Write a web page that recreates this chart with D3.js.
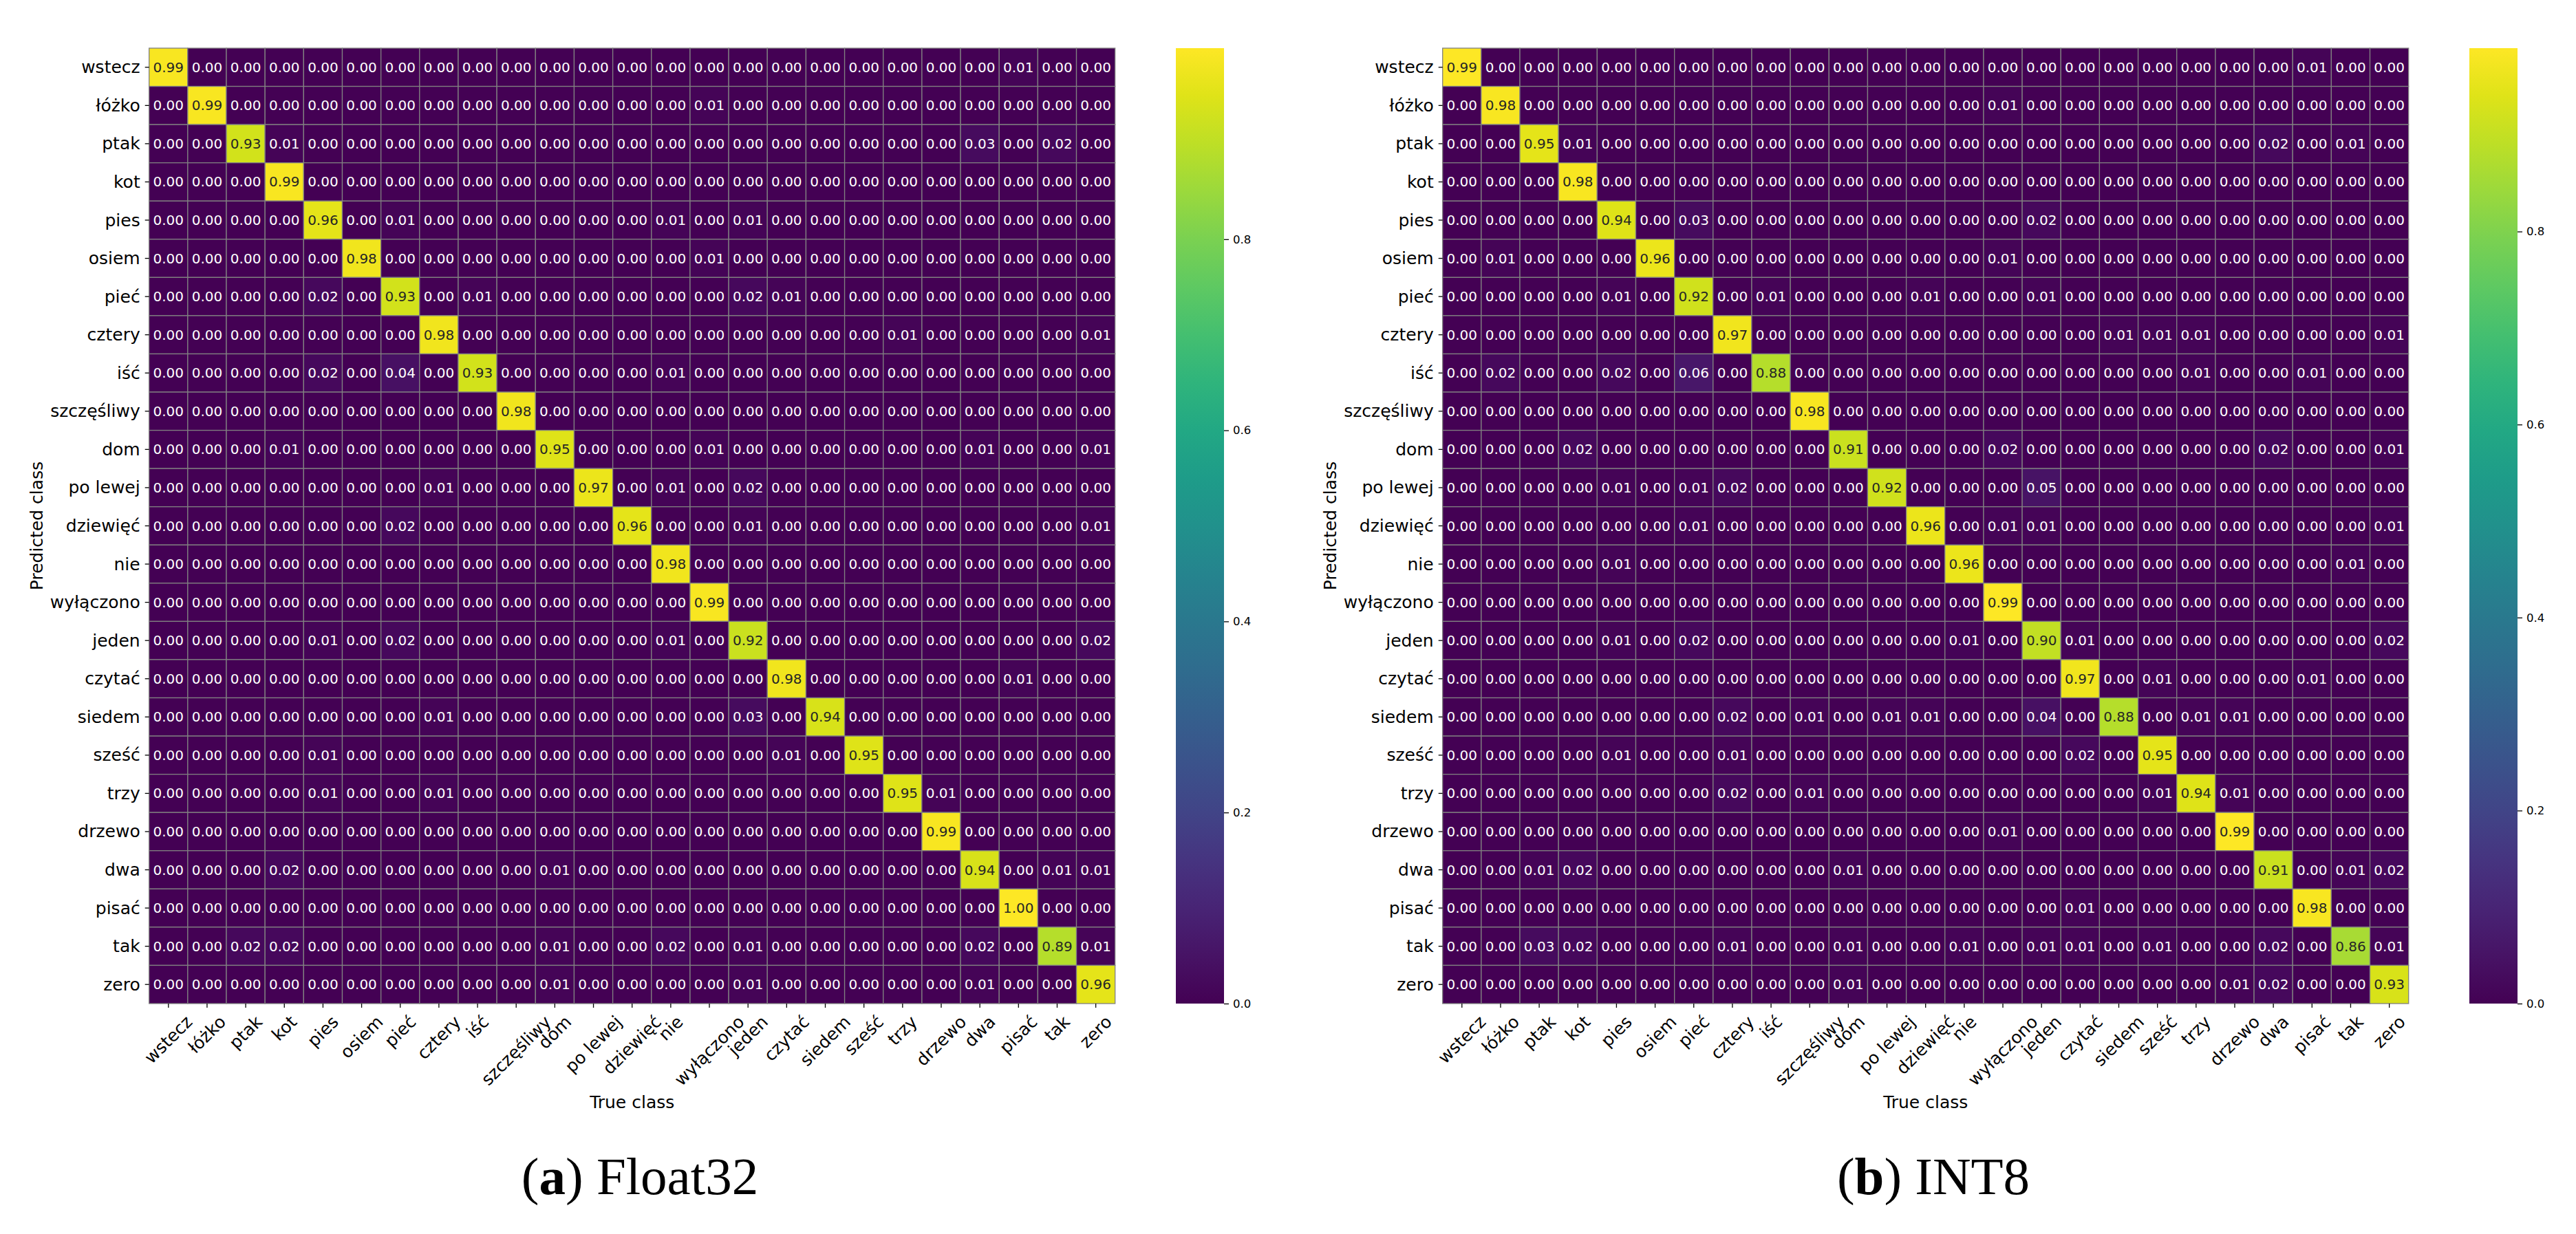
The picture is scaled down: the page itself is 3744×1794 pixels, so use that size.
<!DOCTYPE html>
<html>
<head>
<meta charset="utf-8">
<script src="https://cdn.jsdelivr.net/npm/d3@7"></script>
<style>
  body { margin: 0; background: #fff; }
  svg text { font-family: "DejaVu Sans", sans-serif; }
</style>
</head>
<body>
<svg id="chart"></svg>
<script>
// class labels, same order on both axes
var classNames = ["wstecz", "łóżko", "ptak", "kot", "pies", "osiem", "pieć", "cztery", "iść",
  "szczęśliwy", "dom", "po lewej", "dziewięć", "nie", "wyłączono", "jeden", "czytać", "siedem",
  "sześć", "trzy", "drzewo", "dwa", "pisać", "tak", "zero"];

// rows = predicted class, columns = true class (groups of 5 columns)
var float32Rows = [
  [.99,0,0,0,0, 0,0,0,0,0, 0,0,0,0,0, 0,0,0,0,0, 0,0,.01,0,0],
  [0,.99,0,0,0, 0,0,0,0,0, 0,0,0,0,.01, 0,0,0,0,0, 0,0,0,0,0],
  [0,0,.93,.01,0, 0,0,0,0,0, 0,0,0,0,0, 0,0,0,0,0, 0,.03,0,.02,0],
  [0,0,0,.99,0, 0,0,0,0,0, 0,0,0,0,0, 0,0,0,0,0, 0,0,0,0,0],
  [0,0,0,0,.96, 0,.01,0,0,0, 0,0,0,.01,0, .01,0,0,0,0, 0,0,0,0,0],
  [0,0,0,0,0, .98,0,0,0,0, 0,0,0,0,.01, 0,0,0,0,0, 0,0,0,0,0],
  [0,0,0,0,.02, 0,.93,0,.01,0, 0,0,0,0,0, .02,.01,0,0,0, 0,0,0,0,0],
  [0,0,0,0,0, 0,0,.98,0,0, 0,0,0,0,0, 0,0,0,0,.01, 0,0,0,0,.01],
  [0,0,0,0,.02, 0,.04,0,.93,0, 0,0,0,.01,0, 0,0,0,0,0, 0,0,0,0,0],
  [0,0,0,0,0, 0,0,0,0,.98, 0,0,0,0,0, 0,0,0,0,0, 0,0,0,0,0],
  [0,0,0,.01,0, 0,0,0,0,0, .95,0,0,0,.01, 0,0,0,0,0, 0,.01,0,0,.01],
  [0,0,0,0,0, 0,0,.01,0,0, 0,.97,0,.01,0, .02,0,0,0,0, 0,0,0,0,0],
  [0,0,0,0,0, 0,.02,0,0,0, 0,0,.96,0,0, .01,0,0,0,0, 0,0,0,0,.01],
  [0,0,0,0,0, 0,0,0,0,0, 0,0,0,.98,0, 0,0,0,0,0, 0,0,0,0,0],
  [0,0,0,0,0, 0,0,0,0,0, 0,0,0,0,.99, 0,0,0,0,0, 0,0,0,0,0],
  [0,0,0,0,.01, 0,.02,0,0,0, 0,0,0,.01,0, .92,0,0,0,0, 0,0,0,0,.02],
  [0,0,0,0,0, 0,0,0,0,0, 0,0,0,0,0, 0,.98,0,0,0, 0,0,.01,0,0],
  [0,0,0,0,0, 0,0,.01,0,0, 0,0,0,0,0, .03,0,.94,0,0, 0,0,0,0,0],
  [0,0,0,0,.01, 0,0,0,0,0, 0,0,0,0,0, 0,.01,0,.95,0, 0,0,0,0,0],
  [0,0,0,0,.01, 0,0,.01,0,0, 0,0,0,0,0, 0,0,0,0,.95, .01,0,0,0,0],
  [0,0,0,0,0, 0,0,0,0,0, 0,0,0,0,0, 0,0,0,0,0, .99,0,0,0,0],
  [0,0,0,.02,0, 0,0,0,0,0, .01,0,0,0,0, 0,0,0,0,0, 0,.94,0,.01,.01],
  [0,0,0,0,0, 0,0,0,0,0, 0,0,0,0,0, 0,0,0,0,0, 0,0,1.00,0,0],
  [0,0,.02,.02,0, 0,0,0,0,0, .01,0,0,.02,0, .01,0,0,0,0, 0,.02,0,.89,.01],
  [0,0,0,0,0, 0,0,0,0,0, .01,0,0,0,0, .01,0,0,0,0, 0,.01,0,0,.96]
];

var int8Rows = [
  [.99,0,0,0,0, 0,0,0,0,0, 0,0,0,0,0, 0,0,0,0,0, 0,0,.01,0,0],
  [0,.98,0,0,0, 0,0,0,0,0, 0,0,0,0,.01, 0,0,0,0,0, 0,0,0,0,0],
  [0,0,.95,.01,0, 0,0,0,0,0, 0,0,0,0,0, 0,0,0,0,0, 0,.02,0,.01,0],
  [0,0,0,.98,0, 0,0,0,0,0, 0,0,0,0,0, 0,0,0,0,0, 0,0,0,0,0],
  [0,0,0,0,.94, 0,.03,0,0,0, 0,0,0,0,0, .02,0,0,0,0, 0,0,0,0,0],
  [0,.01,0,0,0, .96,0,0,0,0, 0,0,0,0,.01, 0,0,0,0,0, 0,0,0,0,0],
  [0,0,0,0,.01, 0,.92,0,.01,0, 0,0,.01,0,0, .01,0,0,0,0, 0,0,0,0,0],
  [0,0,0,0,0, 0,0,.97,0,0, 0,0,0,0,0, 0,0,.01,.01,.01, 0,0,0,0,.01],
  [0,.02,0,0,.02, 0,.06,0,.88,0, 0,0,0,0,0, 0,0,0,0,.01, 0,0,.01,0,0],
  [0,0,0,0,0, 0,0,0,0,.98, 0,0,0,0,0, 0,0,0,0,0, 0,0,0,0,0],
  [0,0,0,.02,0, 0,0,0,0,0, .91,0,0,0,.02, 0,0,0,0,0, 0,.02,0,0,.01],
  [0,0,0,0,.01, 0,.01,.02,0,0, 0,.92,0,0,0, .05,0,0,0,0, 0,0,0,0,0],
  [0,0,0,0,0, 0,.01,0,0,0, 0,0,.96,0,.01, .01,0,0,0,0, 0,0,0,0,.01],
  [0,0,0,0,.01, 0,0,0,0,0, 0,0,0,.96,0, 0,0,0,0,0, 0,0,0,.01,0],
  [0,0,0,0,0, 0,0,0,0,0, 0,0,0,0,.99, 0,0,0,0,0, 0,0,0,0,0],
  [0,0,0,0,.01, 0,.02,0,0,0, 0,0,0,.01,0, .90,.01,0,0,0, 0,0,0,0,.02],
  [0,0,0,0,0, 0,0,0,0,0, 0,0,0,0,0, 0,.97,0,.01,0, 0,0,.01,0,0],
  [0,0,0,0,0, 0,0,.02,0,.01, 0,.01,.01,0,0, .04,0,.88,0,.01, .01,0,0,0,0],
  [0,0,0,0,.01, 0,0,.01,0,0, 0,0,0,0,0, 0,.02,0,.95,0, 0,0,0,0,0],
  [0,0,0,0,0, 0,0,.02,0,.01, 0,0,0,0,0, 0,0,0,.01,.94, .01,0,0,0,0],
  [0,0,0,0,0, 0,0,0,0,0, 0,0,0,0,.01, 0,0,0,0,0, .99,0,0,0,0],
  [0,0,.01,.02,0, 0,0,0,0,0, .01,0,0,0,0, 0,0,0,0,0, 0,.91,0,.01,.02],
  [0,0,0,0,0, 0,0,0,0,0, 0,0,0,0,0, 0,.01,0,0,0, 0,0,.98,0,0],
  [0,0,.03,.02,0, 0,0,.01,0,0, .01,0,0,.01,0, .01,.01,0,.01,0, 0,.02,0,.86,.01],
  [0,0,0,0,0, 0,0,0,0,0, .01,0,0,0,0, 0,0,0,0,0, .01,.02,0,0,.93]
];

var colorbarTicks = [0, 0.2, 0.4, 0.6, 0.8];
var panelLetters = ["a", "b"];
var panelNames = ["Float32", "INT8"];

var width = 3744, height = 1794,
    panelShift = 1880,
    plotLeft = 216.7, plotRight = 1620.7,
    plotTop = 70, plotBottom = 1459,
    cbLeft = 1709, cbWidth = 70,
    labelSize = 25, annotSize = 20;

var svg = d3.select("#chart")
    .attr("width", width)
    .attr("height", height);

svg.append("rect").attr("width", width).attr("height", height).attr("fill", "#fff");

// seaborn picks dark or white annotation text from the cell luminance
function luminance(c) {
  var rgb = d3.rgb(c);
  var lin = [rgb.r, rgb.g, rgb.b].map(function(v) {
    v = v / 255;
    return v <= 0.03928 ? v / 12.92 : Math.pow((v + 0.055) / 1.055, 2.4);
  });
  return 0.2126 * lin[0] + 0.7152 * lin[1] + 0.0722 * lin[2];
}

function drawPanel(rows, idx) {
  var g = svg.append("g")
      .attr("transform", "translate(" + (idx * panelShift) + ",0)");

  var x = d3.scaleBand().domain(classNames).range([plotLeft, plotRight]);
  var y = d3.scaleBand().domain(classNames).range([plotTop, plotBottom]);
  var vmax = d3.max(rows, function(r) { return d3.max(r); });
  var color = d3.scaleSequential(d3.interpolateViridis).domain([0, vmax]);

  var cells = [];
  rows.forEach(function(r, i) {
    r.forEach(function(v, j) {
      cells.push({ pred: classNames[i], truth: classNames[j], value: v });
    });
  });

  g.append("g").selectAll("rect")
    .data(cells)
    .enter()
    .append("rect")
    .attr("x", function(d) { return x(d.truth); })
    .attr("y", function(d) { return y(d.pred); })
    .attr("width", x.bandwidth())
    .attr("height", y.bandwidth())
    .attr("fill", function(d) { return color(d.value); })
    .attr("stroke", "#808080")
    .attr("stroke-width", 1.3);

  g.append("g").selectAll("text")
    .data(cells)
    .enter()
    .append("text")
    .attr("x", function(d) { return x(d.truth) + x.bandwidth() / 2; })
    .attr("y", function(d) { return y(d.pred) + y.bandwidth() / 2; })
    .attr("text-anchor", "middle")
    .attr("dominant-baseline", "central")
    .attr("font-size", annotSize)
    .attr("fill", function(d) { return luminance(color(d.value)) > 0.408 ? "#262626" : "#fff"; })
    .text(function(d) { return d3.format(".2f")(d.value); });

  // y axis (predicted)
  var yAxis = g.append("g")
      .attr("transform", "translate(" + plotLeft + ",0)")
      .call(d3.axisLeft(y).tickSize(6).tickPadding(7));
  yAxis.select(".domain").remove();
  yAxis.selectAll("line").attr("stroke", "#000").attr("stroke-width", 1.3);
  yAxis.selectAll("text")
    .attr("font-size", labelSize)
    .attr("font-family", "DejaVu Sans")
    .attr("fill", "#000")
    .attr("dy", null)
    .attr("dominant-baseline", "central");

  // x axis (true), labels turned 45 degrees and centred under the tick
  var xAxis = g.append("g")
      .attr("transform", "translate(0," + plotBottom + ")")
      .call(d3.axisBottom(x).tickSize(6).tickPadding(0));
  xAxis.select(".domain").remove();
  xAxis.selectAll("line").attr("stroke", "#000").attr("stroke-width", 1.3);
  xAxis.selectAll("text")
    .attr("font-size", labelSize)
    .attr("font-family", "DejaVu Sans")
    .attr("fill", "#000")
    .attr("y", 0)
    .attr("dy", null)
    .attr("text-anchor", "middle")
    .attr("dominant-baseline", "central")
    .attr("transform", function() {
      var w = this.getComputedTextLength();
      var h = labelSize * 1.16;
      var half = (w + h) * Math.SQRT1_2 / 2;
      return "translate(0," + (6 + 6 + half) + ") rotate(-45)";
    });

  g.append("text")
    .attr("transform", "translate(62," + ((plotTop + plotBottom) / 2) + ") rotate(-90)")
    .attr("text-anchor", "middle")
    .attr("font-size", labelSize)
    .text("Predicted class");

  g.append("text")
    .attr("x", (plotLeft + plotRight) / 2)
    .attr("y", 1611)
    .attr("text-anchor", "middle")
    .attr("font-size", labelSize)
    .text("True class");

  // colorbar
  var gradId = "cbar" + idx;
  var grad = svg.append("defs").append("linearGradient")
      .attr("id", gradId)
      .attr("x1", 0).attr("y1", 1).attr("x2", 0).attr("y2", 0);
  d3.range(0, 1.0001, 0.05).forEach(function(t) {
    grad.append("stop")
      .attr("offset", t)
      .attr("stop-color", d3.interpolateViridis(t));
  });
  g.append("rect")
    .attr("x", cbLeft)
    .attr("y", plotTop)
    .attr("width", cbWidth)
    .attr("height", plotBottom - plotTop)
    .attr("fill", "url(#" + gradId + ")");

  var cScale = d3.scaleLinear().domain([0, vmax]).range([plotBottom, plotTop]);
  var cAxis = g.append("g")
      .attr("transform", "translate(" + (cbLeft + cbWidth) + ",0)")
      .call(d3.axisRight(cScale).tickValues(colorbarTicks).tickFormat(d3.format(".1f")).tickSize(7).tickPadding(6));
  cAxis.select(".domain").remove();
  cAxis.selectAll("line").attr("stroke", "#000").attr("stroke-width", 1.3);
  cAxis.selectAll("text")
    .attr("font-size", 16.5)
    .attr("font-family", "DejaVu Sans")
    .attr("fill", "#000");

  // sub-figure caption
  var cap = g.append("text")
    .attr("x", 930)
    .attr("y", 1736)
    .attr("text-anchor", "middle")
    .attr("font-size", 77)
    .style("font-family", "'Liberation Serif', serif");
  cap.append("tspan").text("(");
  cap.append("tspan").attr("font-weight", "bold").text(panelLetters[idx]);
  cap.append("tspan").text(") " + panelNames[idx]);
}

drawPanel(float32Rows, 0);
drawPanel(int8Rows, 1);
</script>
</body>
</html>
